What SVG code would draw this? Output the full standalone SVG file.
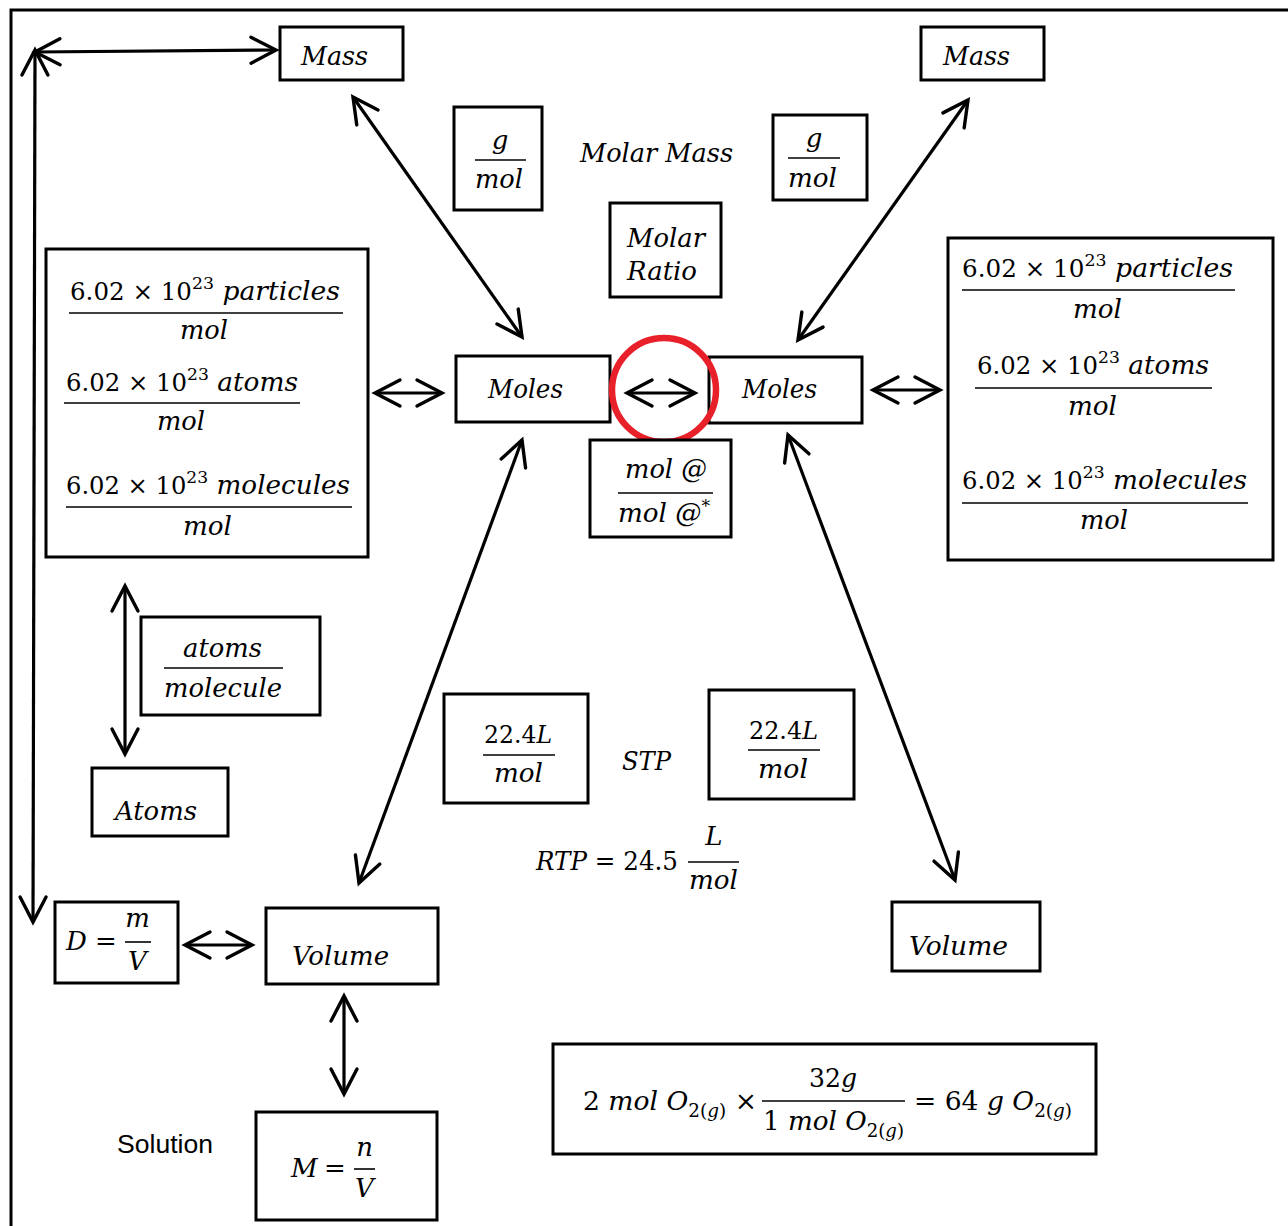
<svg xmlns="http://www.w3.org/2000/svg" width="1288" height="1226" viewBox="0 0 1288 1226">
<style>
.b{fill:#fff;stroke:#000;stroke-width:3}
.c{stroke:#000;stroke-width:3.2;fill:none;marker-start:url(#ah);marker-end:url(#ah)}
.m{font-family:"DejaVu Serif","Liberation Serif",serif;font-size:26px;fill:#000}
.n{font-size:24px}
.i{font-style:italic}
.s{font-size:17px}
.fl{stroke:#000;stroke-width:1.6}
.sans{font-family:"Liberation Sans",Arial,sans-serif;font-size:26px;fill:#000}
</style>
<defs>
<marker id="ah" viewBox="-30 -16 34 32" refX="0" refY="0" markerWidth="34" markerHeight="32" markerUnits="userSpaceOnUse" orient="auto-start-reverse" overflow="visible">
<path d="M-25,-13 L0,0 L-25,13" fill="none" stroke="#000" stroke-width="3.4" stroke-linecap="round" stroke-linejoin="miter"/>
</marker>
</defs>
<rect width="1288" height="1226" fill="#fff"/>
<path d="M11,1226 V10 H1288" fill="none" stroke="#000" stroke-width="3"/>

<g id="connectors">
<line class="c" x1="35" y1="52" x2="276" y2="50"/>
<line class="c" x1="35" y1="50" x2="33" y2="922"/>
<line class="c" x1="353" y1="97" x2="522" y2="337"/>
<line class="c" x1="968" y1="100" x2="798" y2="340"/>
<line class="c" x1="375" y1="393" x2="442" y2="393"/>
<line class="c" x1="627" y1="393" x2="695" y2="393"/>
<line class="c" x1="873" y1="390" x2="940" y2="390"/>
<line class="c" x1="125" y1="586" x2="125" y2="754"/>
<line class="c" x1="522" y1="440" x2="359" y2="883"/>
<line class="c" x1="788" y1="435" x2="955" y2="880"/>
<line class="c" x1="185" y1="945" x2="252" y2="945"/>
<line class="c" x1="344" y1="996" x2="344" y2="1094"/>
</g>

<g id="mass-left">
<rect class="b" x="280" y="27" width="123" height="53"/>
<text class="m i" x="301" y="65" textLength="67" lengthAdjust="spacingAndGlyphs">Mass</text>
</g>
<g id="mass-right">
<rect class="b" x="921" y="27" width="123" height="53"/>
<text class="m i" x="943" y="65" textLength="67" lengthAdjust="spacingAndGlyphs">Mass</text>
</g>

<g id="gmol-left">
<rect class="b" x="454" y="107" width="88" height="103"/>
<text class="m i" x="500" y="149" text-anchor="middle">g</text>
<line class="fl" x1="475" y1="160" x2="526" y2="160"/>
<text class="m i" x="475" y="188" textLength="48" lengthAdjust="spacingAndGlyphs">mol</text>
</g>
<g id="molar-mass-label">
<text class="m i" x="580" y="162" textLength="153" lengthAdjust="spacingAndGlyphs">Molar Mass</text>
</g>
<g id="gmol-right">
<rect class="b" x="773" y="115" width="94" height="85"/>
<text class="m i" x="814" y="147" text-anchor="middle">g</text>
<line class="fl" x1="788" y1="158" x2="840" y2="158"/>
<text class="m i" x="788" y="187" textLength="49" lengthAdjust="spacingAndGlyphs">mol</text>
</g>
<g id="molar-ratio">
<rect class="b" x="610" y="203" width="111" height="94"/>
<text class="m i" x="627" y="247" textLength="78" lengthAdjust="spacingAndGlyphs">Molar</text>
<text class="m i" x="627" y="280" textLength="70" lengthAdjust="spacingAndGlyphs">Ratio</text>
</g>

<g id="avogadro-left">
<rect class="b" x="46" y="249" width="322" height="308"/>
<text class="m n" x="70" y="300" textLength="270" lengthAdjust="spacingAndGlyphs">6.02 × 10<tspan class="s" dy="-11">23</tspan><tspan class="i" dy="11" font-size="26"> particles</tspan></text>
<line class="fl" x1="69" y1="313" x2="343" y2="313"/>
<text class="m i" x="180" y="339" textLength="48" lengthAdjust="spacingAndGlyphs">mol</text>
<text class="m n" x="66" y="391" textLength="232" lengthAdjust="spacingAndGlyphs">6.02 × 10<tspan class="s" dy="-11">23</tspan><tspan class="i" dy="11" font-size="26"> atoms</tspan></text>
<line class="fl" x1="64" y1="403" x2="300" y2="403"/>
<text class="m i" x="157" y="430" textLength="48" lengthAdjust="spacingAndGlyphs">mol</text>
<text class="m n" x="66" y="494" textLength="284" lengthAdjust="spacingAndGlyphs">6.02 × 10<tspan class="s" dy="-11">23</tspan><tspan class="i" dy="11" font-size="26"> molecules</tspan></text>
<line class="fl" x1="66" y1="507" x2="352" y2="507"/>
<text class="m i" x="183" y="535" textLength="49" lengthAdjust="spacingAndGlyphs">mol</text>
</g>

<g id="avogadro-right">
<rect class="b" x="948" y="238" width="325" height="322"/>
<text class="m n" x="962" y="277" textLength="271" lengthAdjust="spacingAndGlyphs">6.02 × 10<tspan class="s" dy="-11">23</tspan><tspan class="i" dy="11" font-size="26"> particles</tspan></text>
<line class="fl" x1="962" y1="290" x2="1235" y2="290"/>
<text class="m i" x="1073" y="318" textLength="49" lengthAdjust="spacingAndGlyphs">mol</text>
<text class="m n" x="977" y="374" textLength="232" lengthAdjust="spacingAndGlyphs">6.02 × 10<tspan class="s" dy="-11">23</tspan><tspan class="i" dy="11" font-size="26"> atoms</tspan></text>
<line class="fl" x1="975" y1="388" x2="1212" y2="388"/>
<text class="m i" x="1068" y="415" textLength="49" lengthAdjust="spacingAndGlyphs">mol</text>
<text class="m n" x="962" y="489" textLength="285" lengthAdjust="spacingAndGlyphs">6.02 × 10<tspan class="s" dy="-11">23</tspan><tspan class="i" dy="11" font-size="26"> molecules</tspan></text>
<line class="fl" x1="962" y1="503" x2="1248" y2="503"/>
<text class="m i" x="1080" y="529" textLength="48" lengthAdjust="spacingAndGlyphs">mol</text>
</g>

<g id="moles-left">
<rect class="b" x="456" y="356" width="154" height="66"/>
<text class="m i" x="488" y="398" textLength="75" lengthAdjust="spacingAndGlyphs">Moles</text>
</g>
<g id="moles-right">
<rect class="b" x="709" y="357" width="153" height="66"/>
<text class="m i" x="742" y="398" textLength="75" lengthAdjust="spacingAndGlyphs">Moles</text>
</g>
<g id="highlight">
<circle cx="664" cy="390" r="52" fill="none" stroke="#e8202a" stroke-width="6.5"/>
</g>

<g id="mol-ratio-fraction">
<rect class="b" x="590" y="440" width="141" height="97"/>
<text class="m i" x="625" y="478" textLength="82" lengthAdjust="spacingAndGlyphs">mol @</text>
<line class="fl" x1="618" y1="493" x2="713" y2="493"/>
<text class="m i" x="618" y="522" textLength="92" lengthAdjust="spacingAndGlyphs">mol @<tspan class="s" dy="-10" font-style="normal">*</tspan></text>
</g>

<g id="atoms-per-molecule">
<rect class="b" x="141" y="617" width="179" height="98"/>
<text class="m i" x="183" y="657" textLength="79" lengthAdjust="spacingAndGlyphs">atoms</text>
<line class="fl" x1="164" y1="668" x2="283" y2="668"/>
<text class="m i" x="164" y="697" textLength="118" lengthAdjust="spacingAndGlyphs">molecule</text>
</g>
<g id="atoms">
<rect class="b" x="92" y="768" width="136" height="68"/>
<text class="m i" x="115" y="820" textLength="82" lengthAdjust="spacingAndGlyphs">Atoms</text>
</g>

<g id="stp-left">
<rect class="b" x="444" y="694" width="144" height="109"/>
<text class="m n" x="484" y="743" textLength="68" lengthAdjust="spacingAndGlyphs">22.4<tspan class="i">L</tspan></text>
<line class="fl" x1="483" y1="755" x2="555" y2="755"/>
<text class="m i" x="494" y="782" textLength="49" lengthAdjust="spacingAndGlyphs">mol</text>
</g>
<g id="stp-label">
<text class="m i" x="622" y="770" textLength="49" lengthAdjust="spacingAndGlyphs">STP</text>
</g>
<g id="stp-right">
<rect class="b" x="709" y="690" width="145" height="109"/>
<text class="m n" x="749" y="739" textLength="69" lengthAdjust="spacingAndGlyphs">22.4<tspan class="i">L</tspan></text>
<line class="fl" x1="748" y1="750" x2="820" y2="750"/>
<text class="m i" x="758" y="778" textLength="50" lengthAdjust="spacingAndGlyphs">mol</text>
</g>
<g id="rtp">
<text class="m" x="536" y="870" textLength="142" lengthAdjust="spacingAndGlyphs"><tspan class="i">RTP</tspan> = 24.5</text>
<text class="m i" x="714" y="845" text-anchor="middle">L</text>
<line class="fl" x1="688" y1="862" x2="739" y2="862"/>
<text class="m i" x="689" y="889" textLength="49" lengthAdjust="spacingAndGlyphs">mol</text>
</g>

<g id="volume-right">
<rect class="b" x="892" y="902" width="148" height="69"/>
<text class="m i" x="909" y="955" textLength="99" lengthAdjust="spacingAndGlyphs">Volume</text>
</g>
<g id="density">
<rect class="b" x="55" y="902" width="123" height="81"/>
<text class="m i" x="66" y="950">D</text>
<text class="m" x="95" y="950">=</text>
<text class="m i" x="137.5" y="927" text-anchor="middle">m</text>
<line class="fl" x1="125" y1="942" x2="151" y2="942"/>
<text class="m i" x="137.5" y="970" text-anchor="middle">V</text>
</g>
<g id="volume-left">
<rect class="b" x="266" y="908" width="172" height="76"/>
<text class="m i" x="292" y="965" textLength="97" lengthAdjust="spacingAndGlyphs">Volume</text>
</g>
<g id="molarity">
<rect class="b" x="256" y="1112" width="181" height="108"/>
<text class="m i" x="291" y="1177">M</text>
<text class="m" x="324" y="1177">=</text>
<text class="m i" x="364.5" y="1156" text-anchor="middle">n</text>
<line class="fl" x1="354" y1="1169" x2="375" y2="1169"/>
<text class="m i" x="364.5" y="1197" text-anchor="middle">V</text>
</g>
<g id="solution-label">
<text class="sans" x="117" y="1153" textLength="96" lengthAdjust="spacingAndGlyphs">Solution</text>
</g>

<g id="example">
<rect class="b" x="553" y="1044" width="543" height="110"/>
<text class="m" x="583" y="1110" textLength="174" lengthAdjust="spacingAndGlyphs">2 <tspan class="i">mol O</tspan><tspan font-size="18" dy="7">2(<tspan class="i">g</tspan>)</tspan><tspan dy="-7"> ×</tspan></text>
<text class="m" x="809" y="1087" textLength="48" lengthAdjust="spacingAndGlyphs">32<tspan class="i">g</tspan></text>
<line class="fl" x1="762" y1="1101" x2="905" y2="1101"/>
<text class="m" x="763" y="1130" textLength="141" lengthAdjust="spacingAndGlyphs">1 <tspan class="i">mol O</tspan><tspan font-size="18" dy="7">2(<tspan class="i">g</tspan>)</tspan></text>
<text class="m" x="914" y="1110" textLength="158" lengthAdjust="spacingAndGlyphs">= 64 <tspan class="i">g O</tspan><tspan font-size="18" dy="7">2(<tspan class="i">g</tspan>)</tspan></text>
</g>
</svg>
